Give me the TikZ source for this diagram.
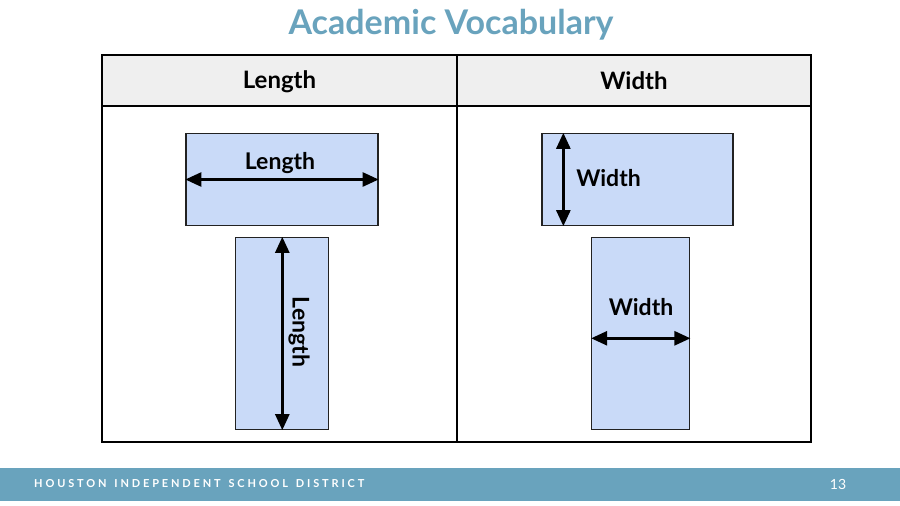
\documentclass[tikz,border=0pt]{standalone}
\usepackage{fontspec}
\setmainfont{Lato}
\newfontfamily\hisdfont[LetterSpace=26,WordSpace=1.4]{Lato}
\usepackage{tikz}
\usetikzlibrary{arrows.meta}

\definecolor{hisdblue}{HTML}{69A3BD}
\definecolor{hdrgray}{HTML}{EFEFEF}
\definecolor{boxblue}{HTML}{C9DAF8}
\definecolor{edgegray}{HTML}{222222}

\tikzset{
  box/.style={draw=edgegray, line width=1.3pt, fill=boxblue, inner sep=0pt},
  dim/.style={line width=2.6pt, {Triangle[length=16pt,width=14pt]}-{Triangle[length=16pt,width=14pt]}},
  lbl/.style={font=\fontsize{23}{27}\selectfont\bfseries, inner sep=0pt}
}

\begin{document}
\begin{tikzpicture}[x=1pt,y=-1pt]
\useasboundingbox (0,0) rectangle (900,506);

% title
\node[text=hisdblue, font=\fontsize{34}{40}\selectfont\bfseries, inner sep=0pt] (title) at (451,25) {Academic Vocabulary};

% table
\draw[line width=1.3pt, fill=hdrgray] (102,55) rectangle (811,106);
\draw[line width=1.3pt] (102,106) rectangle (811,442);
\draw[line width=1.3pt] (457,55) -- (457,442);
\node[lbl, font=\fontsize{24}{28}\selectfont\bfseries] (hlen) at (279.5,82) {Length};
\node[lbl, font=\fontsize{24}{28}\selectfont\bfseries] (hwid) at (634,81) {Width};

% length side
\node[box, minimum width=192pt, minimum height=92pt] (lenA) at (282,179.5) {};
\draw[dim] (lenA.west) -- (lenA.east);
\node[lbl] (lenAtxt) at (280,163) {Length};

\node[box, minimum width=93pt, minimum height=192pt] (lenB) at (282.3,333.5) {};
\draw[dim] (lenB.north) -- (lenB.south);
\node[lbl, rotate=-90] (lenBtxt) at (299,332) {Length};

% width side
\node[box, minimum width=191pt, minimum height=92pt] (widA) at (637.5,179.5) {};
\draw[dim] ([xshift=22pt]widA.north west) -- ([xshift=22pt]widA.south west);
\node[lbl] (widAtxt) at (608.5,178) {Width};

\node[box, minimum width=98pt, minimum height=192pt] (widB) at (640.8,333.5) {};
\draw[dim] ([yshift=-4.8pt]widB.west) -- ([yshift=-4.8pt]widB.east);
\node[lbl] (widBtxt) at (641,307) {Width};

% footer
\fill[hisdblue] (0,467.5) rectangle (900,501);
\node[anchor=west, text=white, inner sep=0pt,
  font=\hisdfont\fontsize{11}{13}\selectfont\bfseries] (hisd) at (34,484) {HOUSTON INDEPENDENT SCHOOL DISTRICT};
\node[text=white, inner sep=0pt, font=\fontsize{14}{16}\selectfont] (pgno) at (838,484) {13};
\end{tikzpicture}
\end{document}
